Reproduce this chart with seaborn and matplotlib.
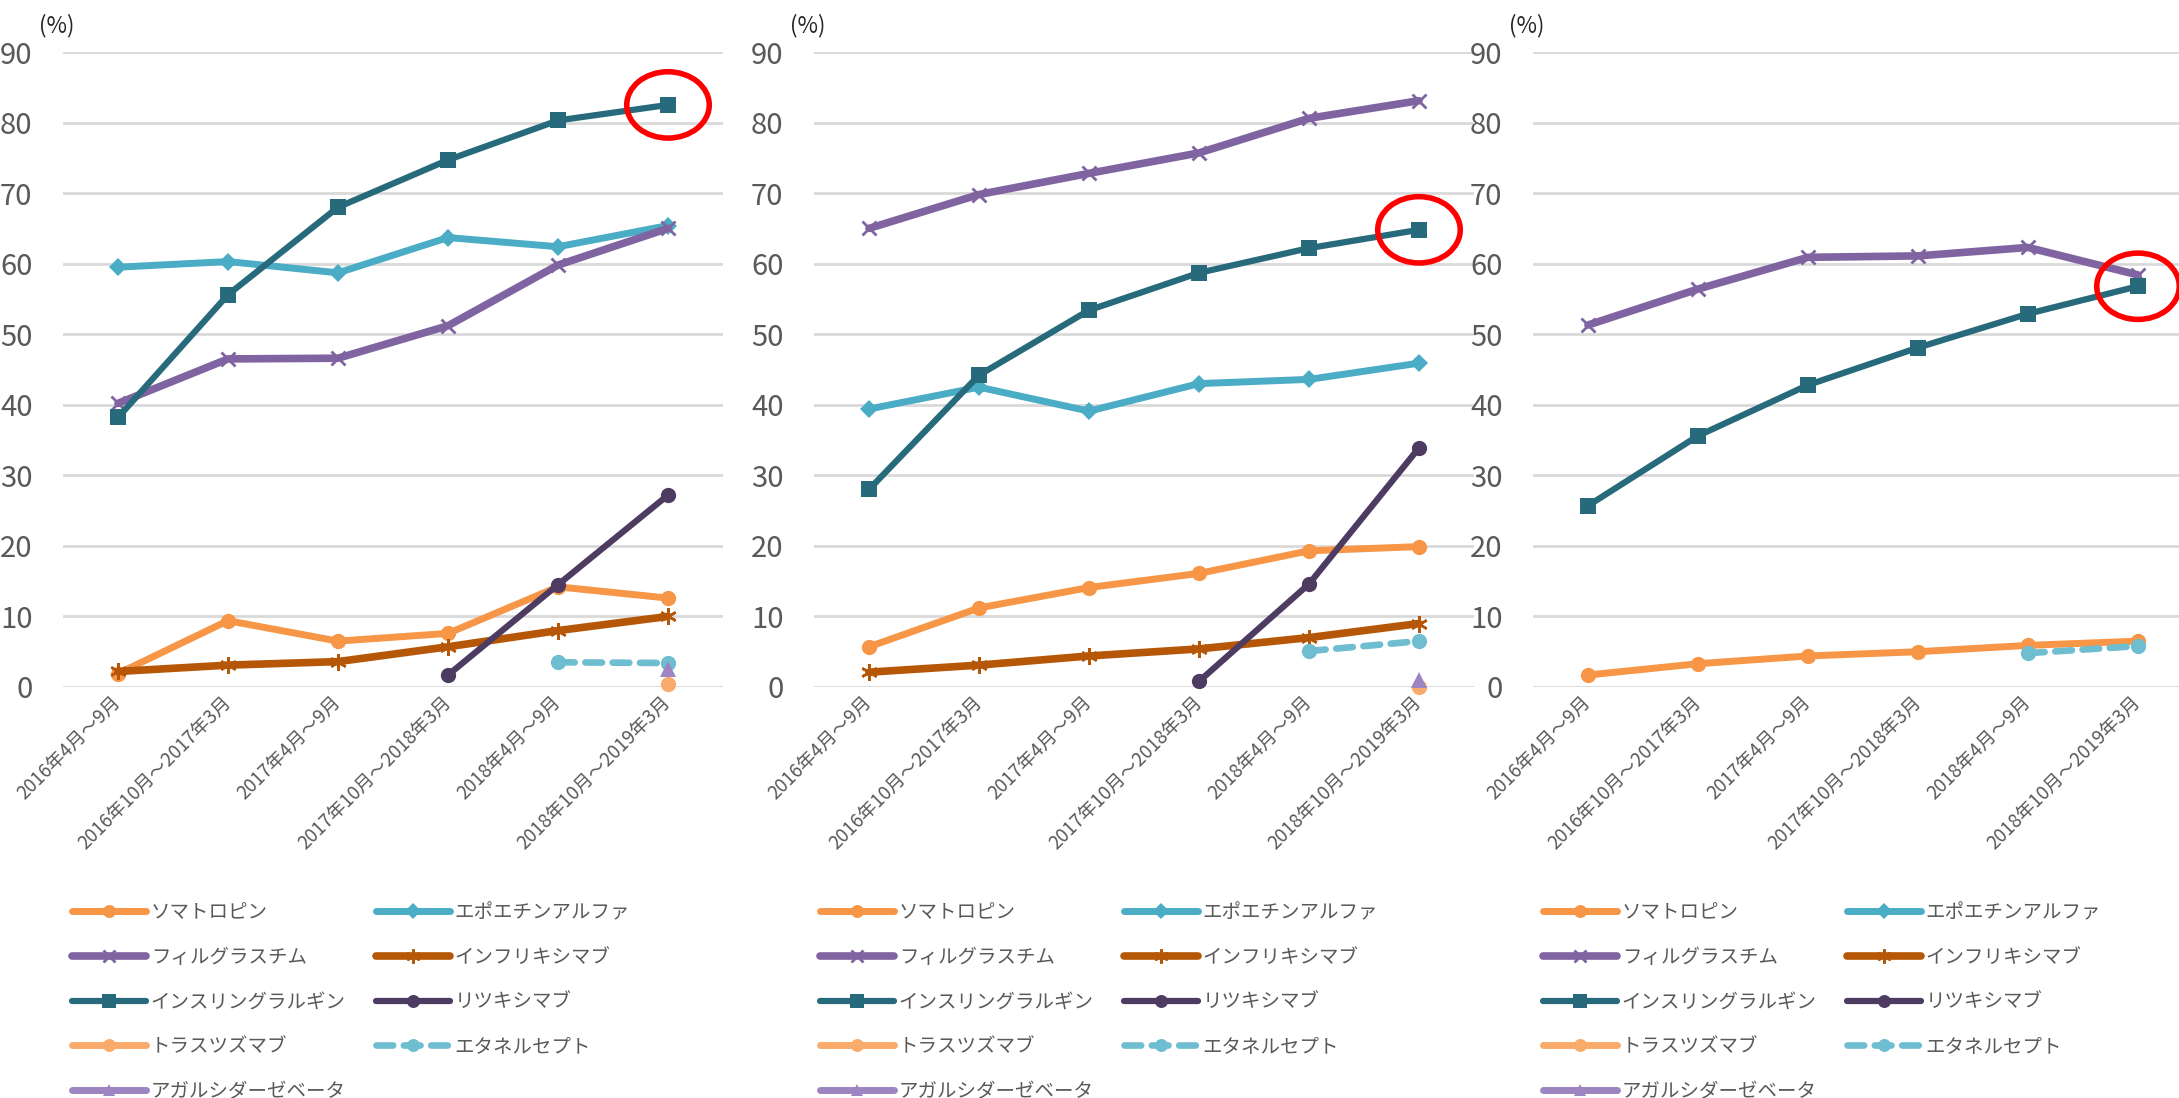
import numpy as np
import pandas as pd
import seaborn as sns
import matplotlib.pyplot as plt
from matplotlib.lines import Line2D
from matplotlib.patches import Ellipse

nan = np.nan

periods = ["2016年4月～9月", "2016年10月～2017年3月", "2017年4月～9月",
           "2017年10月～2018年3月", "2018年4月～9月", "2018年10月～2019年3月"]
y_ticks = [0, 10, 20, 30, 40, 50, 60, 70, 80, 90]

drugs = ["ソマトロピン", "エポエチンアルファ", "フィルグラスチム", "インフリキシマブ",
         "インスリングラルギン", "リツキシマブ", "トラスツズマブ", "エタネルセプト",
         "アガルシダーゼベータ"]

# left panel
a_somatropin = [1.9, 9.4, 6.5, 7.6, 14.2, 12.6]
a_epoetin = [59.5, 60.3, 58.7, 63.7, 62.4, 65.4]
a_filgrastim = [40.2, 46.5, 46.6, 51.2, 59.8, 65.0]
a_infliximab = [2.2, 3.1, 3.6, 5.7, 8.0, 10.0]
a_glargine = [38.2, 55.6, 68.0, 74.7, 80.3, 82.5]
a_rituximab = [nan, nan, nan, 1.7, 14.5, 27.2]
a_trastuzumab = [nan, nan, nan, nan, nan, 0.4]
a_etanercept = [nan, nan, nan, nan, 3.5, 3.4]
a_agalsidase = [nan, nan, nan, nan, nan, 2.6]

# middle panel
b_somatropin = [5.7, 11.2, 14.1, 16.1, 19.3, 19.9]
b_epoetin = [39.4, 42.5, 39.1, 43.0, 43.6, 45.9]
b_filgrastim = [65.0, 69.8, 72.8, 75.7, 80.6, 83.1]
b_infliximab = [2.1, 3.1, 4.4, 5.4, 7.0, 9.0]
b_glargine = [28.0, 44.2, 53.4, 58.7, 62.2, 64.8]
b_rituximab = [nan, nan, nan, 0.8, 14.6, 33.9]
b_trastuzumab = [nan, nan, nan, nan, nan, 0.0]
b_etanercept = [nan, nan, nan, nan, 5.1, 6.5]
b_agalsidase = [nan, nan, nan, nan, nan, 1.0]

# right panel
c_somatropin = [1.7, 3.3, 4.4, 5.0, 5.9, 6.5]
c_filgrastim = [51.3, 56.4, 60.9, 61.1, 62.3, 58.4]
c_glargine = [25.7, 35.6, 42.8, 48.1, 52.9, 56.8]
c_etanercept = [nan, nan, nan, nan, 4.8, 5.8]

panels = [
    {"ソマトロピン": a_somatropin, "エポエチンアルファ": a_epoetin, "フィルグラスチム": a_filgrastim,
     "インフリキシマブ": a_infliximab, "インスリングラルギン": a_glargine, "リツキシマブ": a_rituximab,
     "トラスツズマブ": a_trastuzumab, "エタネルセプト": a_etanercept, "アガルシダーゼベータ": a_agalsidase},
    {"ソマトロピン": b_somatropin, "エポエチンアルファ": b_epoetin, "フィルグラスチム": b_filgrastim,
     "インフリキシマブ": b_infliximab, "インスリングラルギン": b_glargine, "リツキシマブ": b_rituximab,
     "トラスツズマブ": b_trastuzumab, "エタネルセプト": b_etanercept, "アガルシダーゼベータ": b_agalsidase},
    {"ソマトロピン": c_somatropin, "フィルグラスチム": c_filgrastim,
     "インスリングラルギン": c_glargine, "エタネルセプト": c_etanercept},
]

styles = {
    "ソマトロピン": dict(color="#F79646", marker="o", ms=11, lw=5),
    "エポエチンアルファ": dict(color="#4BACC6", marker="D", ms=9, lw=5),
    "フィルグラスチム": dict(color="#8064A2", marker="x", ms=10, mew=2, lw=5.5),
    "インフリキシマブ": dict(color="#B65708", marker=(6, 2, 0), ms=12, mew=1.8, lw=5.5),
    "インスリングラルギン": dict(color="#276A7C", marker="s", ms=11.5, lw=4.5),
    "リツキシマブ": dict(color="#4D3B62", marker="o", ms=11, lw=4.5),
    "トラスツズマブ": dict(color="#F9AB6B", marker="o", ms=11, lw=5),
    "エタネルセプト": dict(color="#6FBDD1", marker="o", ms=11, lw=4.8, dashes=(2.5, 1.6)),
    "アガルシダーゼベータ": dict(color="#9C85C0", marker="^", ms=11, lw=5),
}

sns.set_theme(style="white")
plt.rcParams["font.family"] = ["Noto Sans CJK JP", "DejaVu Sans"]

fig = plt.figure(figsize=(21.79, 10.98), dpi=100)
W, H = 2179, 1098
lefts = [63, 814, 1533]
ax_w, top, bottom = 660, 52, 687
legend_x = [72, 820, 1543]

x = np.arange(len(periods))

for i, data in enumerate(panels):
    ax = fig.add_axes([lefts[i] / W, 1 - bottom / H, ax_w / W, (bottom - top) / H])
    ax.set_axisbelow(True)
    ax.yaxis.grid(True, color="#D9D9D9", lw=2)
    for name, vals in data.items():
        st = dict(styles[name])
        dashes = st.pop("dashes", None)
        ms = st.pop("ms")
        mew = st.pop("mew", 0)
        line = sns.lineplot(x=x, y=vals, ax=ax, color=st["color"], marker=st["marker"],
                            markersize=ms, markeredgewidth=mew, markeredgecolor=st["color"],
                            linewidth=st["lw"], clip_on=False, legend=False,
                            solid_capstyle="round", dash_capstyle="round")
        if dashes is not None:
            line.lines[-1].set_dashes(dashes)
    ax.set_xlim(-0.5, 5.5)
    ax.set_ylim(0, 90)
    ax.set_yticks(y_ticks)
    ax.set_xticks(x)
    ax.set_xticklabels(periods, rotation=45, ha="right", va="center",
                       rotation_mode="anchor", fontsize=13.5, color="#595959")
    ax.tick_params(axis="y", length=0, pad=22, labelsize=21, labelcolor="#595959")
    ax.tick_params(axis="x", length=0, pad=9)
    ax.set_xlabel("")
    ax.set_ylabel("")
    for s in ax.spines.values():
        s.set_visible(False)
    ax.text(lefts[i] / W - 0.003, 1 - 26 / H, "(%)", transform=fig.transFigure,
            ha="center", va="center", fontsize=16, color="#262626")

    # red circle on last insulin glargine point
    ax.add_patch(Ellipse((5, data["インスリングラルギン"][-1]), 0.75, 9.4, fill=False,
                         ec="#FF0000", lw=4, clip_on=False, zorder=10))

    handles = []
    for name in drugs:
        st = styles[name]
        h = Line2D([0], [0], color=st["color"], marker=st["marker"], markersize=st["ms"] * 0.85,
                   markeredgewidth=st.get("mew", 0), markeredgecolor=st["color"],
                   lw=st["lw"], solid_capstyle="round", dash_capstyle="round")
        if "dashes" in st:
            h.set_dashes(st["dashes"])
        handles.append(h)
    order = list(range(0, 9, 2)) + list(range(1, 9, 2))
    fig.legend([handles[k] for k in order], [drugs[k] for k in order],
               loc="upper left", bbox_to_anchor=(legend_x[i] / W, 1 - 902 / H),
               ncol=2, frameon=False, fontsize=14, handlelength=3.8, handletextpad=0.25,
               columnspacing=1.55, labelspacing=1.22, borderpad=0, borderaxespad=0,
               labelcolor="#595959")

fig.savefig("out.png", dpi=100, facecolor="white")
